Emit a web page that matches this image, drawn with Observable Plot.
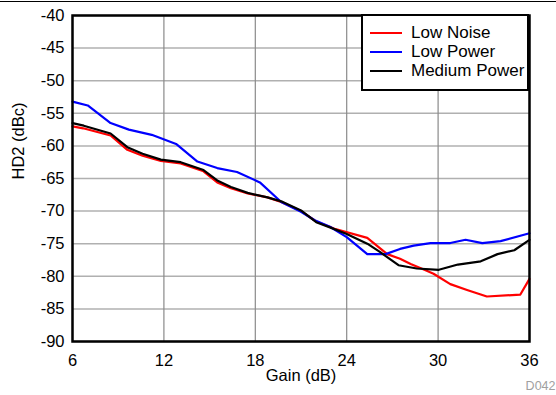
<!DOCTYPE html>
<html>
<head>
<meta charset="utf-8">
<script src="https://cdn.jsdelivr.net/npm/d3@7"></script>
<script src="https://cdn.jsdelivr.net/npm/@observablehq/plot@0.6"></script>
<style>
  html, body { margin: 0; padding: 0; background: white; }
  #wrap { position: relative; width: 556px; height: 395px; overflow: hidden; font-family: "Liberation Sans", Arial, sans-serif; }
  #topline { position: absolute; left: 0; top: 1px; width: 556px; height: 0; border-top: 1px solid #000; }
  #legend { position: absolute; left: 361px; top: 14px; width: 164px; height: 73px; border: 2.5px solid #000; background: #fff; }
  .li { position: absolute; left: 7px; height: 18px; display: flex; align-items: center; font-size: 17px; color: #000; white-space: nowrap; }
  .li span.sw { display: inline-block; width: 32px; height: 0; border-top: 2.5px solid; margin-right: 9px; }
</style>
</head>
<body>
<div id="wrap">
  <div id="chart"></div>
  <div id="topline"></div>
  <div id="legend"></div>
</div>
<script>
// Gain (dB) / HD2 (dBc) readings per series
const seriesNames = ["Low Noise", "Low Power", "Medium Power"];
const seriesColors = ["#ff0000", "#0000ff", "#000000"];

const lowNoiseGain = [6, 6.7, 8.5, 9.6, 10.6, 11.8, 13.1, 14.6, 15.5, 16.4, 17.5, 18.8, 19.7, 21.0, 22.0, 23.2, 25.35, 26.66, 27.5, 28.2, 29.1, 29.7, 30.8, 31.9, 33.2, 35.4, 36];
const lowNoiseHD2 = [-57.0, -57.3, -58.4, -60.6, -61.5, -62.3, -62.7, -63.9, -65.6, -66.5, -67.3, -67.9, -68.6, -70.0, -71.6, -72.7, -74.1, -76.6, -77.3, -78.1, -79.0, -79.6, -81.2, -82.1, -83.1, -82.8, -80.4];

const lowPowerGain = [6, 7, 8.5, 9.7, 11.2, 12.8, 14.2, 15.5, 16.8, 18.3, 19.7, 21.0, 21.9, 22.9, 24.0, 25.35, 26.55, 27.5, 28.4, 29.5, 30.8, 31.8, 32.9, 34.1, 36];
const lowPowerHD2 = [-53.2, -53.8, -56.5, -57.5, -58.3, -59.7, -62.4, -63.4, -64.0, -65.6, -68.6, -70.1, -71.4, -72.4, -74.0, -76.6, -76.6, -75.8, -75.3, -74.9, -74.9, -74.4, -74.9, -74.6, -73.4];

const mediumPowerGain = [6, 6.74, 8.5, 9.6, 10.6, 11.8, 13.1, 14.6, 15.5, 16.4, 17.5, 18.8, 19.7, 21.0, 22.0, 22.9, 24.0, 25.35, 26.2, 27.4, 28.6, 30.05, 31.3, 32.8, 33.9, 35.0, 36];
const mediumPowerHD2 = [-56.5, -56.9, -58.1, -60.2, -61.2, -62.1, -62.5, -63.7, -65.3, -66.3, -67.2, -67.9, -68.5, -69.9, -71.7, -72.5, -73.5, -75.0, -76.3, -78.3, -78.8, -79.0, -78.2, -77.7, -76.6, -76.0, -74.4];

const xTicks = [6, 12, 18, 24, 30, 36];
const yTicks = [-90, -85, -80, -75, -70, -65, -60, -55, -50, -45, -40];

const gains = [lowNoiseGain, lowPowerGain, mediumPowerGain];
const vals = [lowNoiseHD2, lowPowerHD2, mediumPowerHD2];
const rows = [];
seriesNames.forEach((s, i) => gains[i].forEach((g, j) => rows.push({series: s, gain: g, hd2: vals[i][j]})));

const chart = Plot.plot({
  width: 556,
  height: 395,
  marginLeft: 72,
  marginRight: 27,
  marginTop: 15,
  marginBottom: 54,
  style: {fontFamily: "'Liberation Sans', Arial, sans-serif", fontSize: "16.5px", background: "white", color: "black", overflow: "visible"},
  x: {domain: [6, 36]},
  y: {domain: [-90, -40]},
  color: {domain: seriesNames, range: seriesColors},
  marks: [
    Plot.gridY(yTicks, {stroke: "#b0b0b0", strokeOpacity: 1, strokeWidth: 1.5}),
    Plot.gridX(xTicks, {stroke: "#8a8a8a", strokeOpacity: 1, strokeWidth: 1.2}),
    Plot.axisX(xTicks, {tickSize: 0, tickPadding: 13, label: null, fontSize: 16.5, tickFormat: d => String(d)}),
    Plot.axisY(yTicks, {tickSize: 0, tickPadding: 8, label: null, fontSize: 16.5, tickFormat: d => String(d)}),
    Plot.line(rows, {x: "gain", y: "hd2", z: "series", stroke: "series", strokeWidth: 2.2, strokeLinejoin: "round"}),
    Plot.frame({stroke: "black", strokeWidth: 2.5}),
    Plot.text(["Gain (dB)"], {frameAnchor: "bottom", dy: 39, fontSize: 16.5}),
    Plot.text(["HD2 (dBc)"], {frameAnchor: "left", rotate: -90, dx: -54, dy: 1, fontSize: 16.5}),
    Plot.text(["D042"], {frameAnchor: "bottom-right", textAnchor: "end", dx: 26, dy: 48, fontSize: 12.5, fill: "#a0a0a0"})
  ]
});
document.getElementById("chart").appendChild(chart);

const legend = document.getElementById("legend");
seriesNames.forEach((s, i) => {
  const d = document.createElement("div");
  d.className = "li";
  d.style.top = (8 + i * 19) + "px";
  const sw = document.createElement("span");
  sw.className = "sw";
  sw.style.borderTopColor = seriesColors[i];
  d.appendChild(sw);
  d.appendChild(document.createTextNode(s));
  legend.appendChild(d);
});
</script>
</body>
</html>
